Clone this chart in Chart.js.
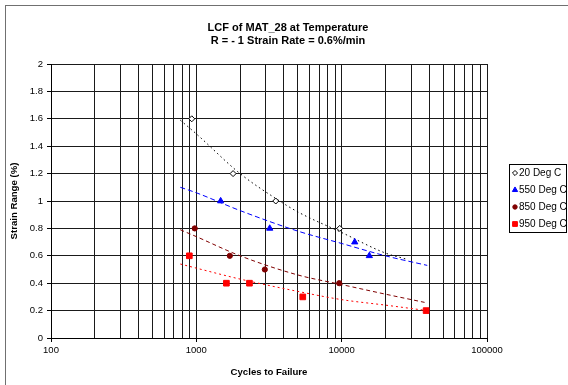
<!DOCTYPE html>
<html>
<head>
<meta charset="utf-8">
<script src="https://cdn.jsdelivr.net/npm/chart.js@4.4.0/dist/chart.umd.min.js"></script>
<style>
  html, body { margin: 0; padding: 0; background: #fff; }
</style>
</head>
<body>
<canvas id="chart1" width="568" height="385"></canvas>
<script>
const chartTitle = ['LCF of MAT_28 at Temperature', 'R = - 1 Strain Rate = 0.6%/min'];
const seriesNames = ['20 Deg C', '550 Deg C', '850 Deg C', '950 Deg C'];

// test points
const cycles20 = [930, 1790, 3520, 9700];
const strain20 = [1.6, 1.2, 1.0, 0.8];
const cycles550 = [1470, 3200, 12300, 15500];
const strain550 = [1.0, 0.8, 0.7, 0.6];
const cycles850 = [975, 1700, 2960, 9620];
const strain850 = [0.8, 0.6, 0.5, 0.4];
const cycles950 = [895, 1610, 2320, 5400, 38100];
const strain950 = [0.6, 0.4, 0.4, 0.3, 0.2];

// trend lines
const trendCycles20 = [776, 1000, 2000, 3500, 5000, 10000, 20000, 28000];
const trendStrain20 = [1.59, 1.49, 1.2, 1.02, 0.92, 0.77, 0.62, 0.575];
const trendCycles550 = [776, 1000, 2000, 5000, 10000, 20000, 38800];
const trendStrain550 = [1.1, 1.06, 0.93, 0.78, 0.69, 0.6, 0.53];
const trendCycles850 = [776, 1000, 2000, 5000, 10000, 20000, 37200];
const trendStrain850 = [0.79, 0.74, 0.6, 0.46, 0.39, 0.32, 0.26];
const trendCycles950 = [776, 1000, 2000, 5000, 10000, 20000, 38800];
const trendStrain950 = [0.54, 0.51, 0.43, 0.34, 0.28, 0.24, 0.2];

const xDecades = [100, 1000, 10000];
const xMax = 100000;
const yTicks = [0, 0.2, 0.4, 0.6, 0.8, 1, 1.2, 1.4, 1.6, 1.8, 2];

const pts = (xs, ys) => xs.map((x, i) => ({ x: x, y: ys[i] }));

const markerStyles = [
  { pointStyle: 'rectRot', radius: 3, backgroundColor: '#ffffff', borderColor: '#000000' },
  { pointStyle: 'triangle', radius: 3.6, backgroundColor: '#0000ff', borderColor: '#0000ff' },
  { pointStyle: 'circle', radius: 2.6, backgroundColor: '#800000', borderColor: '#800000' },
  { pointStyle: 'rect', radius: 4, backgroundColor: '#ff0000', borderColor: '#ff0000' }
];

const markerData = [pts(cycles20, strain20), pts(cycles550, strain550), pts(cycles850, strain850), pts(cycles950, strain950)];
const trendData = [
  pts(trendCycles20, trendStrain20), pts(trendCycles550, trendStrain550),
  pts(trendCycles850, trendStrain850), pts(trendCycles950, trendStrain950)
];
const trendColors = ['#000000', '#0000ff', '#800000', '#ff0000'];
const trendDashes = [[1.5, 3], [5, 3], [4, 3], [2, 3]];

const datasets = [];
markerData.forEach((d, i) => {
  const m = markerStyles[i];
  datasets.push({
    label: seriesNames[i],
    data: d,
    showLine: false,
    order: 0,
    pointStyle: m.pointStyle,
    pointRadius: m.radius,
    pointHoverRadius: m.radius,
    pointBackgroundColor: m.backgroundColor,
    pointBorderColor: m.borderColor,
    pointBorderWidth: 1
  });
});
trendData.forEach((d, i) => {
  datasets.push({
    label: 'trend ' + seriesNames[i],
    data: d,
    showLine: true,
    order: 1,
    pointRadius: 0,
    borderColor: trendColors[i],
    borderWidth: 1,
    borderDash: trendDashes[i],
    cubicInterpolationMode: 'monotone',
    fill: false
  });
});

// frame, title and boxed legend like the spreadsheet chart
const decorations = {
  id: 'decorations',
  beforeDraw(chart) {
    const ctx = chart.ctx;
    ctx.save();
    ctx.fillStyle = '#ffffff';
    ctx.fillRect(0, 0, chart.width, chart.height);
    ctx.strokeStyle = '#707070';
    ctx.lineWidth = 1;
    ctx.strokeRect(5.5, 5.5, 700, 500);
    ctx.restore();
  },
  afterDraw(chart) {
    const ctx = chart.ctx;
    ctx.save();
    ctx.fillStyle = '#000000';
    ctx.textAlign = 'center';
    ctx.textBaseline = 'middle';
    ctx.font = 'bold 11px "Liberation Sans", Arial, sans-serif';
    ctx.fillText(chartTitle[0], 288, 28);
    ctx.fillText(chartTitle[1], 288, 40.5);

    // legend
    ctx.fillStyle = '#ffffff';
    ctx.fillRect(509.5, 164.5, 57, 68);
    ctx.strokeStyle = '#000000';
    ctx.strokeRect(509.5, 164.5, 57, 68);
    ctx.font = '10px "Liberation Sans", Arial, sans-serif';
    ctx.textAlign = 'left';
    seriesNames.forEach((name, i) => {
      const y = 173 + i * 17;
      const m = markerStyles[i];
      ctx.fillStyle = m.backgroundColor;
      ctx.strokeStyle = m.borderColor;
      ctx.lineWidth = 1;
      Chart.helpers.drawPoint(ctx, { pointStyle: m.pointStyle, radius: m.radius * 0.85, rotation: 0, borderWidth: 1 }, 515, y);
      ctx.fillStyle = '#000000';
      ctx.fillText(name, 519, y + 0.5);
    });
    ctx.restore();
  }
};

new Chart(document.getElementById('chart1'), {
  type: 'scatter',
  data: { datasets: datasets },
  options: {
    responsive: false,
    animation: false,
    devicePixelRatio: 1,
    layout: { padding: { top: 64, right: 81, left: 0, bottom: 0 } },
    plugins: {
      legend: { display: false },
      title: { display: false },
      tooltip: { enabled: false }
    },
    scales: {
      x: {
        type: 'logarithmic',
        min: 100,
        max: xMax,
        afterFit(scale) { scale.height = 47; },
        afterBuildTicks(scale) {
          const t = [];
          xDecades.forEach((d) => {
            for (let k = 1; k <= 9; k++) t.push({ value: d * k, major: k === 1 });
          });
          t.push({ value: xMax, major: true });
          scale.ticks = t;
        },
        ticks: {
          autoSkip: false,
          maxRotation: 0,
          padding: 3,
          color: '#000',
          font: { family: '"Liberation Sans", Arial, sans-serif', size: 9.5 },
          callback(v) {
            const l = Math.log10(v);
            return Math.abs(l - Math.round(l)) < 1e-9 ? String(v) : '';
          }
        },
        grid: {
          color: '#1a1a1a',
          lineWidth: 1,
          tickLength: 4,
          tickColor(c) { return c.tick && c.tick.major ? '#000' : 'rgba(0,0,0,0)'; }
        },
        border: { color: '#000', width: 1 },
        title: {
          display: true,
          text: 'Cycles to Failure',
          color: '#000',
          font: { family: '"Liberation Sans", Arial, sans-serif', size: 9.6, weight: 'bold' },
          padding: { top: 0, bottom: 7 }
        }
      },
      y: {
        min: 0,
        max: 2,
        afterFit(scale) { scale.width = 51; },
        afterBuildTicks(scale) {
          scale.ticks = yTicks.map((v) => ({ value: v }));
        },
        ticks: {
          padding: 4,
          color: '#000',
          font: { family: '"Liberation Sans", Arial, sans-serif', size: 9.5 },
          callback(v) { return String(parseFloat(Number(v).toFixed(1))); }
        },
        grid: { color: '#1a1a1a', lineWidth: 1, tickLength: 4, tickColor: '#000' },
        border: { color: '#000', width: 1 },
        title: {
          display: true,
          text: 'Strain Range (%)',
          color: '#000',
          font: { family: '"Liberation Sans", Arial, sans-serif', size: 9.6, weight: 'bold' },
          padding: { top: 9, bottom: 0 }
        }
      }
    }
  },
  plugins: [decorations]
});
</script>
</body>
</html>
